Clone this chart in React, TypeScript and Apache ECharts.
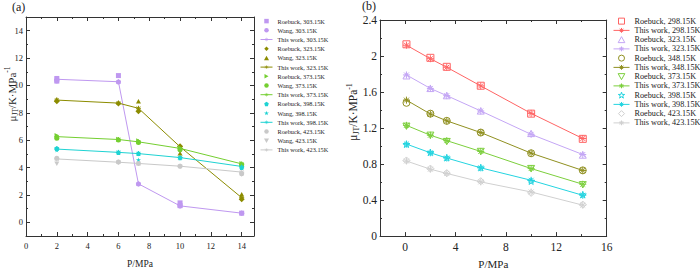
import React, { useEffect, useRef } from 'react';
import * as echarts from 'echarts';

// ---------- Panel (a) data ----------
const pA = [2, 6, 7.3, 10, 14];
const thisWorkA303 = [10.45, 10.27, 2.81, 1.2, 0.67];
const thisWorkA323 = [8.93, 8.71, 8.33, 5.52, 1.8];
const thisWorkA373 = [6.26, 6.05, 5.88, 5.4, 4.27];
const thisWorkA398 = [5.35, 5.11, 5.02, 4.73, 4.08];
const thisWorkA423 = [4.63, 4.39, 4.3, 4.1, 3.67];
const roebuckA303 = [[2, 10.51], [2, 10.32], [6, 10.72], [10, 1.42], [10, 1.22], [14, 0.67]];
const wangA303 = [[2, 10.32], [6, 10.25], [7.3, 2.8], [10, 1.2], [14, 0.67]];
const roebuckA323 = [[2, 8.85], [6, 8.68], [7.3, 8.12], [10, 5.55], [14, 1.68]];
const wangA323 = [[2, 8.98], [7.3, 8.85], [10, 5.05], [14, 2.05]];
const roebuckA373 = [[2, 6.34], [6, 6.07], [7.3, 5.95], [10, 5.45], [14, 4.3]];
const wangA373 = [[2, 6.15], [6, 6.02], [7.3, 5.84], [10, 5.3], [14, 4.2]];
const roebuckA398 = [[2, 5.4], [6, 5.1], [7.3, 5.02], [10, 4.72], [14, 4.0]];
const wangA398 = [[2, 5.28], [7.3, 4.56], [14, 4.1]];
const roebuckA423 = [[2, 4.68], [6, 4.4], [7.3, 4.3], [10, 4.1], [14, 3.55]];
const wangA423 = [[2, 4.27], [14, 3.5]];

const xTicksA = [0, 2, 4, 6, 8, 10, 12, 14];
const xMinorA = [1, 3, 5, 7, 9, 11, 13];
const yTicksA = [0, 2, 4, 6, 8, 10, 12, 14];
const yMinorA = [1, 3, 5, 7, 9, 11, 13];

// ---------- Panel (b) data ----------
const pB = [0.1, 2.0, 3.3, 6.0, 10.0, 14.1];
const thisWorkB298 = [2.12, 1.97, 1.875, 1.668, 1.363, 1.084];
const thisWorkB323 = [1.79, 1.64, 1.56, 1.39, 1.13, 0.906];
const thisWorkB348 = [1.51, 1.356, 1.28, 1.15, 0.921, 0.729];
const thisWorkB373 = [1.23, 1.12, 1.06, 0.94, 0.75, 0.576];
const thisWorkB398 = [1.022, 0.925, 0.867, 0.758, 0.62, 0.453];
const thisWorkB423 = [0.834, 0.743, 0.696, 0.602, 0.49, 0.344];
const roebuckB298 = [2.13, 1.98, 1.88, 1.67, 1.36, 1.08];
const roebuckB323 = [1.78, 1.64, 1.56, 1.39, 1.14, 0.9];
const roebuckB348 = [1.48, 1.36, 1.28, 1.15, 0.92, 0.73];
const roebuckB373 = [1.22, 1.12, 1.05, 0.94, 0.75, 0.57];
const roebuckB398 = [1.02, 0.93, 0.87, 0.76, 0.61, 0.46];
const roebuckB423 = [0.84, 0.75, 0.7, 0.61, 0.48, 0.35];

const xTicksB = [0, 4, 8, 12, 16];
const xMinorB = [2, 6, 10, 14];
const yTicksB = [0, 0.4, 0.8, 1.2, 1.6, 2, 2.4];
const yMinorB = [0.2, 0.6, 1.0, 1.4, 1.8, 2.2];

const FONT = 'Liberation Serif';
const ZW = '\u200b';

const C = {
  a303: '#bf98f0',
  a323: '#8c8c00',
  a373: '#74cf30',
  a398: '#1fd3d3',
  a423: '#c9c9c9',
  b298: '#ff6464',
  b323: '#c4a6f5',
  b348: '#909020',
  b373: '#7ccf3c',
  b398: '#24d4e0',
  b423: '#d0d0d0',
};

const ASTER = 'path://M5,0L5,10M0,5L10,5M1.5,1.5L8.5,8.5M8.5,1.5L1.5,8.5';
const STAR = 'path://M50,0L61,35L98,35L68,57L79,91L50,70L21,91L32,57L2,35L39,35Z';
const PENTA = 'path://M50,0L100,38L81,100L19,100L0,38Z';
const SQUARE = 'path://M0,0L10,0L10,10L0,10Z';
const CIRCLE = 'path://M0,5A5,5,0,1,1,10,5A5,5,0,1,1,0,5Z';
const TRI_UP = 'path://M5,0L10,9L0,9Z';
const TRI_DOWN = 'path://M0,0L10,0L5,9Z';
const TRI_RIGHT = 'path://M0,0L9,5L0,10Z';
const DIAMOND = 'path://M5,0L10,5L5,10L0,5Z';

function makeAxes(
  dim: 'x' | 'y',
  gridIndex: number,
  min: number,
  max: number,
  majors: number[],
  minors: number[],
  fontSize: number,
  margin: number,
  extra: any
) {
  const posMain = dim === 'x' ? 'bottom' : 'left';
  const posOpp = dim === 'x' ? 'top' : 'right';
  const base = (position: string, vals: number[], len: number, showLine: boolean, showLabel: boolean) => ({
    type: 'value',
    gridIndex,
    min,
    max,
    position,
    axisLine: { show: showLine, onZero: false, lineStyle: { color: '#333', width: 1 } },
    axisTick: { show: true, inside: true, length: len, customValues: vals, lineStyle: { color: '#333', width: 1 } },
    axisLabel: {
      show: showLabel,
      customValues: majors,
      fontFamily: FONT,
      fontSize,
      color: '#222',
      margin,
    },
    splitLine: { show: false },
    minorTick: { show: false },
  });
  const main = { ...base(posMain, majors, 4, true, true), ...extra };
  return [
    main,
    base(posMain, minors, 2, false, false),
    base(posOpp, majors, 4, true, false),
    base(posOpp, minors, 2, false, false),
  ];
}

function lineSeries(name: string, xs: number[], ys: number[], color: string, size: number, axis: number) {
  return {
    name,
    type: 'line',
    xAxisIndex: axis,
    yAxisIndex: axis,
    data: xs.map((x, i) => [x, ys[i]]),
    symbol: ASTER,
    symbolSize: size,
    lineStyle: { color, width: 1 },
    itemStyle: { color, borderColor: color, borderWidth: 1 },
    z: 2,
  };
}

function scatterSeries(name: string, data: number[][], color: string, symbol: string, size: number, axis: number, hollow: boolean) {
  return {
    name,
    type: 'scatter',
    xAxisIndex: axis,
    yAxisIndex: axis,
    data,
    symbol,
    symbolSize: size,
    symbolKeepAspect: true,
    itemStyle: hollow
      ? { color: 'rgba(255,255,255,0)', borderColor: color, borderWidth: 1, opacity: 1 }
      : { color, opacity: 1 },
    z: 3,
  };
}

const App: React.FC = () => {
  const ref = useRef<HTMLDivElement>(null);
  useEffect(() => {
    if (!ref.current) return;
    const chart = echarts.init(ref.current, undefined, { renderer: 'svg' });

    const seriesA = [
      scatterSeries('Roebuck, 303.15K', roebuckA303, C.a303, SQUARE, 5, 0, false),
      scatterSeries('Wang, 303.15K', wangA303, C.a303, CIRCLE, 5, 0, false),
      lineSeries('This work, 303.15K', pA, thisWorkA303, C.a303, 5, 0),
      scatterSeries('Roebuck, 323.15K', roebuckA323, C.a323, DIAMOND, 6, 0, false),
      scatterSeries('Wang, 323.15K', wangA323, C.a323, TRI_UP, 5, 0, false),
      lineSeries('This work, 323.15K', pA, thisWorkA323, C.a323, 5, 0),
      scatterSeries('Roebuck, 373.15K', roebuckA373, C.a373, TRI_RIGHT, 5, 0, false),
      scatterSeries('Wang, 373.15K', wangA373, C.a373, CIRCLE, 5, 0, false),
      lineSeries('This work, 373.15K', pA, thisWorkA373, C.a373, 5, 0),
      scatterSeries('Roebuck, 398.15K', roebuckA398, C.a398, PENTA, 5, 0, false),
      scatterSeries('Wang, 398.15K', wangA398, C.a398, STAR, 5, 0, false),
      lineSeries('This work, 398.15K', pA, thisWorkA398, C.a398, 5, 0),
      scatterSeries('Roebuck, 423.15K', roebuckA423, C.a423, CIRCLE, 5, 0, false),
      scatterSeries('Wang, 423.15K', wangA423, C.a423, TRI_DOWN, 5, 0, false),
      lineSeries('This work, 423.15K', pA, thisWorkA423, C.a423, 5, 0),
    ];

    const pts = (ys: number[]) => pB.map((x, i) => [x, ys[i]]);
    const seriesB = [
      scatterSeries('Roebuck, 298.15K' + ZW, pts(roebuckB298), C.b298, SQUARE, 7, 4, true),
      lineSeries('This work, 298.15K' + ZW, pB, thisWorkB298, C.b298, 7, 4),
      scatterSeries('Roebuck, 323.15K' + ZW, pts(roebuckB323), C.b323, TRI_UP, 7, 4, true),
      lineSeries('This work, 323.15K' + ZW, pB, thisWorkB323, C.b323, 7, 4),
      scatterSeries('Roebuck, 348.15K' + ZW, pts(roebuckB348), C.b348, CIRCLE, 7, 4, true),
      lineSeries('This work, 348.15K' + ZW, pB, thisWorkB348, C.b348, 7, 4),
      scatterSeries('Roebuck, 373.15K' + ZW, pts(roebuckB373), C.b373, TRI_DOWN, 7, 4, true),
      lineSeries('This work, 373.15K' + ZW, pB, thisWorkB373, C.b373, 7, 4),
      scatterSeries('Roebuck, 398.15K' + ZW, pts(roebuckB398), C.b398, STAR, 7, 4, true),
      lineSeries('This work, 398.15K' + ZW, pB, thisWorkB398, C.b398, 7, 4),
      scatterSeries('Roebuck, 423.15K' + ZW, pts(roebuckB423), C.b423, DIAMOND, 7, 4, true),
      lineSeries('This work, 423.15K' + ZW, pB, thisWorkB423, C.b423, 7, 4),
    ];

    const yName = (fs: number) => ({
      text: '{a|μ}{s|JT}{a|/K·MPa}{p|-1}',
      rich: {
        a: { fontFamily: FONT, fontSize: fs, lineHeight: fs + 4, fill: '#222' },
        s: { fontFamily: FONT, fontSize: fs * 0.68, lineHeight: fs * 0.7, verticalAlign: 'bottom', fill: '#222' },
        p: { fontFamily: FONT, fontSize: fs * 0.68, lineHeight: fs * 0.7, verticalAlign: 'top', fill: '#222' },
      },
      align: 'center',
      verticalAlign: 'middle',
    });

    chart.setOption({
      animation: false,
      backgroundColor: '#fff',
      grid: [
        { left: 26, top: 17, width: 228, height: 224, containLabel: false },
        { left: 380, top: 20, width: 226.7, height: 220.7, containLabel: false },
      ],
      xAxis: [
        ...makeAxes('x', 0, 0, 14.8, xTicksA, xMinorA, 8.5, 5, {
          name: 'P/MPa', nameLocation: 'middle', nameGap: 23,
          nameTextStyle: { fontFamily: FONT, fontSize: 9.5, color: '#222' },
        }),
        ...makeAxes('x', 1, -2, 16, xTicksB, xMinorB, 11.5, 5, {
          name: 'P/MPa', nameLocation: 'middle', nameGap: 19,
          nameTextStyle: { fontFamily: FONT, fontSize: 11, color: '#222' },
        }),
      ],
      yAxis: [
        ...makeAxes('y', 0, -1, 15, yTicksA, yMinorA, 8.5, 3, {}),
        ...makeAxes('y', 1, 0, 2.4, yTicksB, yMinorB, 11.5, 3, {}),
      ],
      legend: [
        {
          orient: 'vertical',
          left: 260,
          top: 16.5,
          padding: 0,
          itemGap: 0,
          itemWidth: 12,
          itemHeight: 4.5,
          symbolKeepAspect: true,
          lineStyle: { width: 1 },
          itemStyle: { borderWidth: 0.5 },
          data: seriesA.map((s) => s.name),
          textStyle: { fontFamily: FONT, fontSize: 6.3, lineHeight: 9.2, color: '#222' },
        },
        {
          orient: 'vertical',
          left: 613,
          top: 16.5,
          padding: 0,
          itemGap: 0,
          itemWidth: 16,
          itemHeight: 6,
          symbolKeepAspect: true,
          lineStyle: { width: 1 },
          itemStyle: { borderWidth: 1 },
          data: seriesB.map((s) => s.name),
          formatter: (n: string) => n.replace(ZW, ''),
          textStyle: { fontFamily: FONT, fontSize: 8.2, lineHeight: 9.25, color: '#222' },
        },
      ],
      graphic: [
        { type: 'text', left: 12, top: 1, style: { text: '(a)', fontFamily: FONT, fontSize: 12, fill: '#222' } },
        { type: 'text', left: 362, top: 0, style: { text: '(b)', fontFamily: FONT, fontSize: 12, fill: '#222' } },
        { type: 'text', x: 11.5, y: 94, rotation: Math.PI / 2, style: yName(11) },
        { type: 'text', x: 353, y: 112, rotation: Math.PI / 2, style: yName(11.5) },
      ],
      series: [...seriesA, ...seriesB],
    });

    return () => chart.dispose();
  }, []);

  return <div ref={ref} style={{ position: 'absolute', left: 0, top: 0, width: 700, height: 274 }} />;
};

export default App;
